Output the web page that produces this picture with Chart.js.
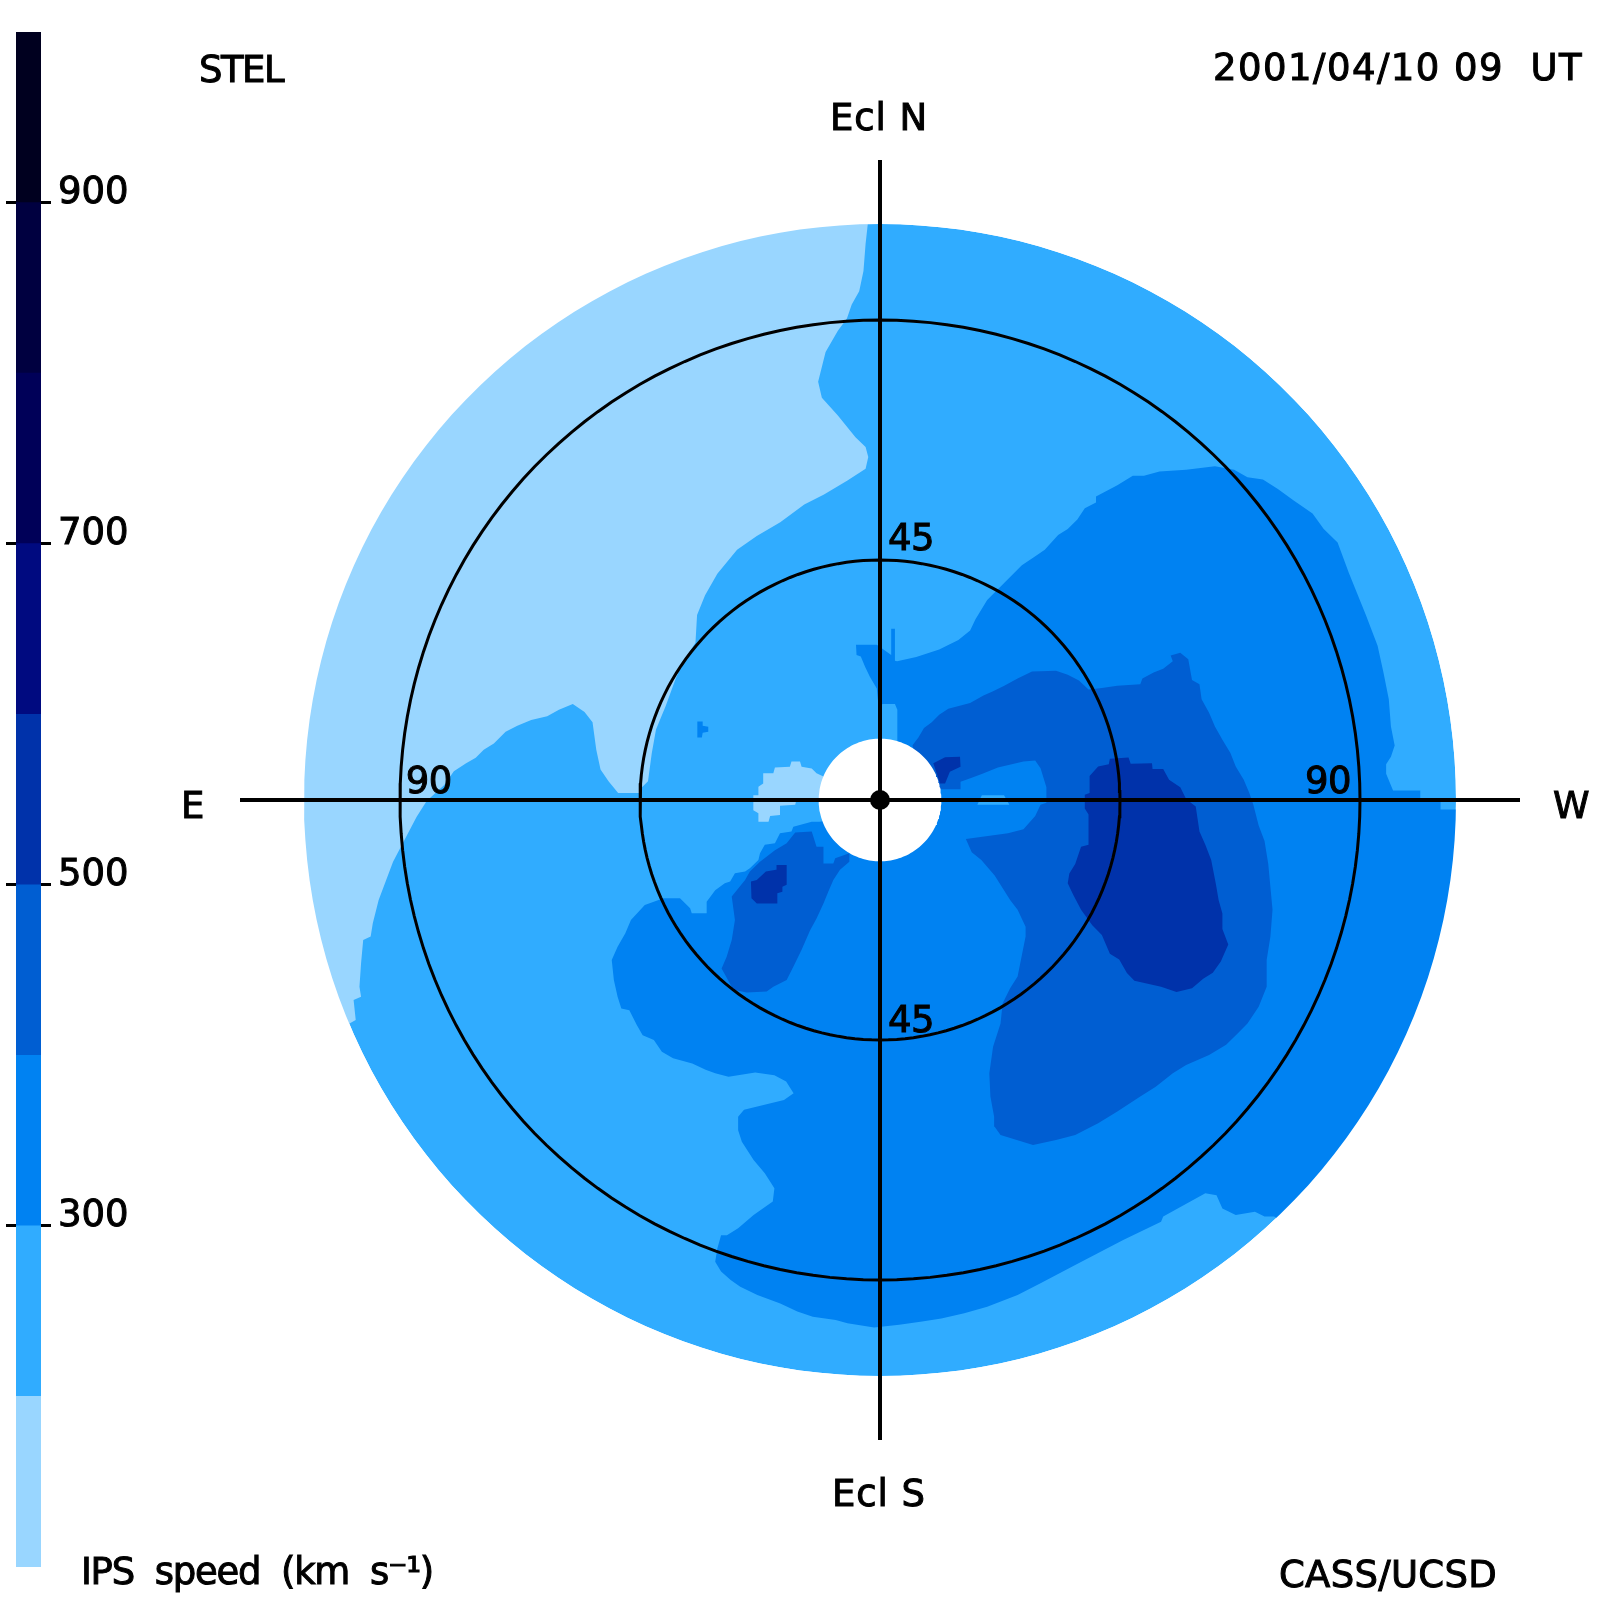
<!DOCTYPE html>
<html>
<head>
<meta charset="utf-8">
<title>IPS speed</title>
<script src="https://cdn.jsdelivr.net/npm/chart.js@4"></script>
<style>
    body { margin: 0; background: #ffffff; }
    #wrap { position: relative; width: 1600px; height: 1600px; }
    canvas { position: absolute; left: 0; top: 0; }
</style>
</head>
<body>
<div id="wrap">
    <canvas id="mapChart" width="1600" height="1600"></canvas>
    <canvas id="barChart" width="140" height="1600"></canvas>
</div>
<script>
// colour bar: km/s band edges and colours
const bandEdges = [100, 200, 300, 400, 500, 600, 700, 800, 900, 1000];
const bandColors = ["#99d6ff", "#30acff", "#0082f2", "#005ed2", "#0032aa", "#000a80", "#000058", "#000040", "#00001f"];
const barTicks = [300, 500, 700, 900];

// contour outlines in degrees from the Sun, x towards W, y towards Ecl N
const speedBelow200 = [[-2.2,115],[-2.2,108.8],[-2.7,104.3],[-3.1,99.2],[-3.9,95.4],[-5.3,92.9],[-6.2,90.3],[-7.9,88],[-10.2,84],[-11.6,78.4],[-10.9,75.4],[-7.9,72.1],[-4.6,68],[-2.7,66.2],[-2.2,64.3],[-2.7,62.1],[-6.1,59.9],[-10.5,57.3],[-14.2,55.4],[-18.7,52.1],[-23.1,49.5],[-26.8,46.9],[-30.5,42.4],[-32.8,38.4],[-34.3,34.7],[-34.6,29.5],[-36.8,26.1],[-38.3,22.8],[-40.2,17.6],[-42,13.2],[-42.8,8.7],[-43.5,3.5],[-45,2],[-45,1.3],[-49.1,1.3],[-50.9,3.5],[-52.4,5.7],[-53.2,9.4],[-53.9,14.6],[-55.4,16.5],[-57.6,18],[-60.2,16.9],[-62.4,15.7],[-65.4,15],[-68,13.9],[-70.2,12.8],[-72.4,10.6],[-74.3,9.4],[-75.8,7.9],[-77.6,6.9],[-79.9,5.4],[-81.7,2.8],[-85,-0.2],[-86.9,-3.2],[-91.3,-11.6],[-94,-18.75],[-95.1,-23.1],[-95.5,-25.6],[-96.9,-26.25],[-97.3,-30.6],[-97.6,-35],[-97.3,-36.9],[-98.7,-37.5],[-98.3,-41.25],[-105,-45],[-125,-30],[-125,60],[-60,105]];
const speedBelow200Patch = [[-10.6,4.4],[-11.9,5],[-12.8,5.9],[-14.7,6.25],[-15,7.2],[-16.6,7.2],[-16.9,6.25],[-19.7,6.1],[-20,5],[-21.9,5],[-21.9,3.1],[-22.8,2.5],[-22.8,0.9],[-23.75,0.9],[-23.75,-1.9],[-22.8,-2.5],[-22.8,-4.1],[-20.9,-4.1],[-20.6,-3],[-18.75,-2.8],[-18.75,-1.1],[-15.9,-0.9],[-15.75,-0.3],[-11.25,-0.3]];
const speedAbove300 = [[115,-1.8],[108.1,-1.8],[105.1,-1.8],[105.1,-0.15],[101.3,0.2],[101.3,1.8],[96.2,1.8],[94.9,4.9],[94.9,6.7],[95.8,8.1],[96.5,10.2],[95.8,13.8],[95.4,18.9],[94.4,23.9],[93.3,28.9],[91.1,34.7],[87.9,42.6],[85.8,48.3],[83.2,50.8],[81.1,53.7],[77.5,56.2],[74.6,58.3],[71.8,60.1],[68.9,60.5],[66.4,61.9],[62.8,62.6],[57.4,61.9],[52.4,61.6],[49.5,60.8],[47.4,60.8],[44.5,59],[40.5,56.9],[40.5,55.8],[38.4,54.7],[37,52.6],[35.2,50.8],[33.4,49.7],[30.9,46.9],[28.7,45.4],[26.6,44],[23.7,41.1],[20.1,37.5],[17.9,33.9],[16.9,31.8],[14.7,30],[11.1,28.2],[6.8,26.8],[3.2,26],[2.8,26.1],[2.8,32.1],[2.1,32.1],[2.1,27.2],[-0.6,29.1],[-4.5,29.1],[-4.4,27.2],[-3.6,26.9],[-2.8,25],[-1.9,23.1],[-0.6,20.9],[-0.3,17.8],[0.6,18],[2.8,18],[3.25,16.9],[3.25,11.6],[3.25,5],[-5,-3],[-11.3,-4.1],[-12.8,-4.1],[-16.25,-5],[-16.6,-5.9],[-18.75,-6.25],[-19.7,-8.1],[-21.6,-8.4],[-22.5,-10],[-22.8,-11.25],[-24.4,-12.8],[-25.3,-13.4],[-27.2,-13.75],[-28.1,-15.3],[-29.1,-15.6],[-30.9,-16.9],[-32.5,-19.1],[-32.5,-21.25],[-35.3,-21.25],[-35.6,-20.3],[-37.5,-18.4],[-40.6,-18.4],[-44.1,-19.7],[-46.7,-22.5],[-47.75,-25],[-49.2,-27.5],[-50.3,-30],[-49.9,-33.75],[-49.2,-36.9],[-48.5,-39.1],[-47,-39.4],[-45.6,-42.2],[-44.5,-44.1],[-42.4,-45],[-40.9,-47.2],[-38.8,-48.4],[-35.2,-49.4],[-32.7,-50.6],[-30.9,-51.25],[-28.4,-51.9],[-23.4,-51.1],[-19.8,-51.6],[-17.6,-52.8],[-16.2,-55],[-18,-56.25],[-25.5,-58.1],[-26.6,-59.4],[-26.6,-61.9],[-25.9,-64.1],[-23.7,-67.5],[-21.6,-70],[-19.8,-72.8],[-20.1,-75.3],[-23.7,-77.8],[-26.6,-80.3],[-28.7,-81.6],[-29.8,-81.6],[-30.5,-84.1],[-30.9,-86.6],[-29.8,-88.4],[-28,-90],[-26.2,-91.25],[-23,-92.8],[-18.7,-94.4],[-15.5,-95.9],[-12.6,-96.9],[-8.3,-97.5],[-6.1,-98.1],[-1.1,-98.9],[3.6,-98.4],[7.9,-97.8],[11.5,-97.2],[15.8,-96.25],[20.1,-95],[25.8,-92.8],[30.1,-90.6],[36.6,-87.2],[45.6,-82.5],[52.7,-79.1],[53.1,-78.1],[61,-73.75],[63.1,-74.1],[64.2,-76.6],[66.7,-77.8],[70.3,-77.2],[72.1,-78.1],[73.9,-78.1],[85,-85],[120,-40]];
const speedAbove300Speck = [[-34.25,14.7],[-33.25,14.7],[-33.25,13.9],[-32.2,13.75],[-32.2,12.8],[-33.25,12.6],[-33.4,11.7],[-34.25,11.7]];
const speedBelow300Sliver = [[19.1,0.9],[23.25,0.9],[24.25,-0.9],[18.25,-0.9]];
const speedAbove400East = [[-12.8,-5.9],[-11.9,-8.75],[-10.6,-8.75],[-10.6,-11.9],[-8.75,-11.9],[-8.4,-10.9],[-5.75,-10],[-5.75,-11.6],[-7.5,-13.1],[-8.75,-15],[-9.7,-17.2],[-10.6,-19.4],[-11.9,-22.2],[-13.1,-24.4],[-14.7,-28.1],[-16.25,-31.25],[-17.5,-33.75],[-20,-35],[-21.25,-35.9],[-25,-36.1],[-27.5,-35.6],[-29.7,-31.6],[-28.75,-29.4],[-27.8,-26.25],[-27.2,-22.5],[-27.8,-18.1],[-25.3,-15],[-24.4,-13.4],[-22.5,-11.6],[-19.7,-9.4],[-17.5,-8.1],[-15.9,-6.1]];
const speedAbove400West = [[6.1,10.25],[7.2,11.7],[8.25,13.5],[9.7,14.6],[11.1,16],[12.8,17.1],[16.9,18.2],[19.4,19.6],[21.2,20.4],[23.3,21.4],[25.8,22.8],[28.5,24.1],[33,24.25],[35.2,23.5],[37.3,22.4],[39.1,20.7],[41.6,21],[44.5,21.4],[48.8,21.7],[49.2,22.8],[51.3,23.9],[53.1,24.6],[54.9,26],[54.5,27.1],[56.3,27.6],[57.8,26.4],[58.5,22.5],[59.9,21.7],[60.3,18.9],[61.7,16.35],[62.8,13.8],[64.2,11.3],[65.7,8.8],[66.7,6.3],[68.2,3.8],[69.25,1.3],[70,-0.9],[71,-4.8],[72.1,-7.7],[72.8,-12],[73.2,-16.3],[73.6,-20.6],[73.2,-25.6],[72.5,-30],[72.5,-35],[71,-38.75],[68.9,-41.9],[67.1,-43.75],[64.9,-45.9],[61.7,-47.8],[57.4,-49.7],[54.9,-51.25],[51.7,-53.75],[48.8,-55.6],[44.5,-58.4],[40.9,-60.6],[36.6,-62.8],[33,-63.75],[28.7,-64.7],[22.6,-62.8],[21.5,-61.25],[21.4,-59.4],[20.7,-55.6],[20.5,-51.25],[21.2,-46.25],[22.6,-41.9],[23,-38.1],[24.4,-35.3],[25.8,-33.1],[27.3,-25.6],[27.3,-23.75],[25.8,-20.6],[24.4,-18.75],[21.5,-14.15],[19,-11.25],[17.2,-9.8],[16.1,-7.3],[24,-6.25],[26.9,-5.5],[29.1,-3],[30.1,-0.9],[31.2,-0.5],[31.2,2.4],[30.1,5.95],[29.1,7.4],[26.9,7.2],[22.1,6.1],[19.2,4.9],[17.2,4.15],[15.1,3.4],[15.1,2],[11.8,2],[8,2]];
const speedAbove500East = [[-19.5,-13.1],[-19.4,-12.2],[-17.5,-12.2],[-17.5,-15.9],[-18.3,-16.25],[-18.3,-17.2],[-19.25,-17.5],[-19.25,-19.4],[-23.1,-19.4],[-24.1,-18.4],[-24.2,-15.3],[-23.1,-15],[-21.4,-13.4]];
const speedAbove500West = [[43.1,7.75],[46.6,7.95],[47,6.8],[51,6.9],[51.1,5.8],[53.1,5.8],[54.2,3.8],[56.3,2.4],[57.4,0.2],[59.2,-1.2],[59.9,-5.9],[61,-8.4],[62.1,-11.25],[63,-15.9],[63.5,-18.8],[64.2,-21.3],[64.2,-24.2],[65.3,-27.1],[63.9,-30.3],[62.4,-32.4],[60.6,-33.5],[58.5,-35.3],[55.6,-36],[52.7,-35],[47.7,-33.9],[46.3,-32.45],[44.85,-29.9],[43.1,-28.85],[41.6,-25.3],[39.8,-23.5],[37.7,-20.6],[36.2,-17.7],[35.2,-15.6],[35.5,-13.8],[36.6,-12],[37.7,-8.75],[39.1,-8.4],[39.1,-2.7],[38.4,-1.6],[38.4,1],[39.3,1.3],[39.3,4.5],[40.9,6.3],[42.9,6.7]];
const speedAbove500Sun = [[10,6.9],[12.2,8],[15,8.1],[15.1,6.25],[13.1,5.3],[12.2,3.1],[11.25,3.1]];

// graticule
const mapLimit = 108;
const sunHole = 11.5;
const elongationRings = [45, 90];
const crossReach = 120;

const ringLabels = [
    { text: "45", x: 1.5, y: 46.9 },
    { text: "45", x: 1.5, y: -43.5 },
    { text: "90", x: -88.9, y: 1.3 },
    { text: "90", x: 79.7, y: 1.3 },
];
// page captions: left edge, baseline, width in px
const captions = [
    { text: "STEL", left: 199, base: 82, width: 84 },
    { text: "2001/04/10 09  UT", left: 1213, base: 80, width: 370 },
    { text: "Ecl N", left: 830, base: 130, width: 98 },
    { text: "Ecl S", left: 832, base: 1506, width: 94 },
    { text: "E", left: 181, base: 818, width: 20 },
    { text: "W", left: 1553, base: 818, width: 29 },
    { text: "CASS/UCSD", left: 1279, base: 1587, width: 218 },
    { text: "IPS  speed  (km  s⁻¹)", left: 81, base: 1584, width: 352 },
];

function ringPoints(radius) {
    const points = [];
    for (let deg = 0; deg <= 360; deg += 2) {
        const angle = deg * Math.PI / 180;
        points.push([radius * Math.cos(angle), radius * Math.sin(angle)]);
    }
    return points;
}

function toXY(points) {
    return points.map(([x, y]) => ({ x, y }));
}

function area(points, color) {
    return {
        data: toXY(points),
        showLine: true,
        fill: "shape",
        backgroundColor: color,
        borderWidth: 0,
        pointRadius: 0,
    };
}

function stroke(points, width) {
    return {
        data: toXY(points),
        showLine: true,
        fill: false,
        borderColor: "#000000",
        borderWidth: width,
        pointRadius: 0,
    };
}

// white page around the map, a ring joined to the frame of the plot
const outsideMap = ringPoints(mapLimit).concat([[mapLimit, 0], [135, 0], [135, -150], [-165, -150], [-165, 150], [135, 150], [135, 0]]);

const mapLayers = [
    area(ringPoints(mapLimit), bandColors[1]),
    area(speedBelow200, bandColors[0]),
    area(speedAbove300, bandColors[2]),
    area(speedBelow200Patch, bandColors[0]),
    area(speedAbove300Speck, bandColors[2]),
    area(speedAbove400East, bandColors[3]),
    area(speedAbove400West, bandColors[3]),
    area(speedBelow300Sliver, bandColors[1]),
    area(speedAbove500East, bandColors[4]),
    area(speedAbove500West, bandColors[4]),
    area(speedAbove500Sun, bandColors[4]),
    area(outsideMap, "#ffffff"),
    area(ringPoints(sunHole), "#ffffff"),
    ...elongationRings.map((radius) => stroke(ringPoints(radius), 3)),
    stroke([[-crossReach, 0], [crossReach, 0]], 4),
    stroke([[0, -crossReach], [0, crossReach]], 4),
    {
        data: [{ x: 0, y: 0 }],
        pointRadius: 10,
        pointBackgroundColor: "#000000",
        pointBorderWidth: 0,
    },
];
// first dataset has to end up at the bottom
mapLayers.forEach((layer, index) => { layer.order = mapLayers.length - index; });

function putText(ctx, text, left, base, width) {
    ctx.letterSpacing = "0px";
    const natural = ctx.measureText(text).width;
    ctx.letterSpacing = `${(width - natural) / text.length}px`;
    ctx.fillText(text, left, base);
    ctx.strokeText(text, left, base);
    ctx.letterSpacing = "0px";
}

const mapLabels = {
    id: "mapLabels",
    afterDraw(chart) {
        const { ctx, scales } = chart;
        ctx.save();
        ctx.font = '37px "DejaVu Sans"';
        ctx.fillStyle = "#000000";
        ctx.strokeStyle = "#000000";
        ctx.lineWidth = 1;
        ctx.textBaseline = "alphabetic";
        ringLabels.forEach((label) => {
            putText(ctx, label.text, scales.x.getPixelForValue(label.x), scales.y.getPixelForValue(label.y), 46);
        });
        captions.forEach((label) => putText(ctx, label.text, label.left, label.base, label.width));
        ctx.restore();
    },
};

new Chart(document.getElementById("mapChart"), {
    type: "scatter",
    data: { datasets: mapLayers },
    options: {
        responsive: false,
        devicePixelRatio: 1,
        animation: false,
        layout: { padding: 0, autoPadding: false },
        plugins: { legend: { display: false }, tooltip: { enabled: false } },
        scales: {
            x: { type: "linear", min: -165, max: 135, display: false },
            y: { type: "linear", min: -150, max: 150, display: false },
        },
    },
    plugins: [mapLabels],
});

function setBarTicks(scale) {
    scale.ticks = barTicks.map((value) => ({ value }));
}

new Chart(document.getElementById("barChart"), {
    type: "bar",
    data: {
        labels: ["IPS speed"],
        datasets: bandColors.map((color, index) => ({
            data: [[bandEdges[index], bandEdges[index + 1]]],
            backgroundColor: color,
            borderWidth: 0,
            barPercentage: 1,
            categoryPercentage: 1,
            grouped: false,
        })),
    },
    options: {
        responsive: false,
        devicePixelRatio: 1,
        animation: false,
        layout: { padding: { top: 32, bottom: 33 } },
        plugins: { legend: { display: false }, tooltip: { enabled: false } },
        scales: {
            x: { display: false },
            y: {
                position: "right",
                min: 100,
                max: 1000,
                afterBuildTicks: setBarTicks,
                afterFit: (scale) => { scale.width = 99; },
                border: { display: false },
                grid: { drawOnChartArea: false, tickLength: 10, tickWidth: 3, tickColor: "#000000" },
                ticks: {
                    color: "#000000",
                    padding: 7,
                    labelOffset: -9,
                    textStrokeColor: "#000000",
                    textStrokeWidth: 1,
                    font: { family: "DejaVu Sans", size: 37 },
                },
            },
            left: {
                display: true,
                position: "left",
                min: 100,
                max: 1000,
                afterBuildTicks: setBarTicks,
                afterFit: (scale) => { scale.width = 16; },
                border: { display: false },
                grid: { drawOnChartArea: false, tickLength: 10, tickWidth: 3, tickColor: "#000000" },
                ticks: { callback: () => "" },
            },
        },
    },
});
</script>
</body>
</html>
